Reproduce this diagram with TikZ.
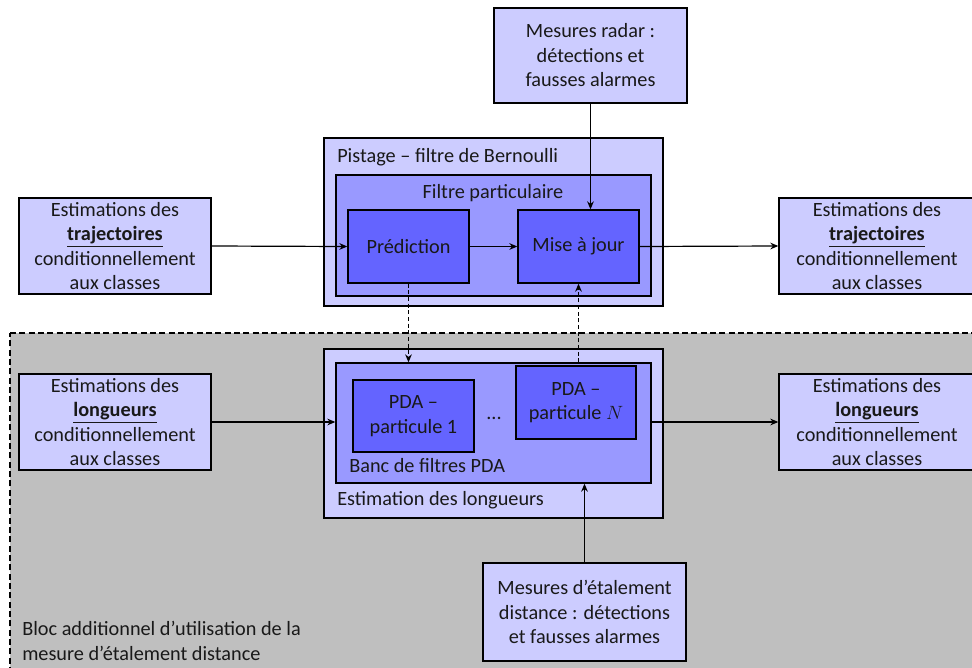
\documentclass[tikz,border=0pt]{standalone}
\usepackage{fontspec}
\setmainfont{Carlito}
\usetikzlibrary{arrows.meta}
\definecolor{lightv}{HTML}{CCCCFF}
\definecolor{midv}{HTML}{9999FF}
\definecolor{darkv}{HTML}{6464FF}
\definecolor{bggray}{HTML}{BFBFBF}
\tikzset{
  every node/.style={font=\fontsize{15.2}{18.4}\selectfont, text=black!90},
  box/.style={draw=black, line width=1pt, inner sep=0pt, align=center},
  arr/.style={-{Stealth[length=6pt,width=5pt]}, line width=0.9pt},
  darr/.style={arr, dash pattern=on 3pt off 2pt},
  lbl/.style={inner sep=0pt, anchor=west}
}
\begin{document}
\begin{tikzpicture}[x=0.75pt, y=-0.75pt]
\useasboundingbox (0,0) rectangle (972,668);
\fill[white] (0,0) rectangle (972,668);
% gray additional block
\draw[fill=bggray, line width=1pt, dash pattern=on 4.5pt off 2.5pt] (10,333) -- (985,333) -- (985,690) -- (10,690) -- cycle;
\node[lbl, align=left] (bloc) at (22,641) {Bloc additionnel d’utilisation de la\\mesure d’étalement distance};

% radar measurements
\node[box, fill=lightv, minimum width={193*0.75pt}, minimum height={95*0.75pt}] (radar) at (590.5,55.5) {Mesures radar :\\détections et\\fausses alarmes};

% tracking block
\node[box, fill=lightv, minimum width={339*0.75pt}, minimum height={168*0.75pt}] (pist) at (493.5,222) {};
\node[lbl] (pistl) at (337,157) {Pistage – filtre de Bernoulli};
\node[box, fill=midv, minimum width={315*0.75pt}, minimum height={121*0.75pt}] (filt) at (493.5,235.5) {};
\node[inner sep=0pt] (filtl) at (493,193) {Filtre particulaire};
\node[box, fill=darkv, minimum width={121*0.75pt}, minimum height={73*0.75pt}] (pred) at (408.5,246.5) {Prédiction};
\node[box, fill=darkv, minimum width={121*0.75pt}, minimum height={73*0.75pt}] (maj) at (578.5,246.5) {Mise à jour};

% side boxes top
\node[box, fill=lightv, minimum width={192*0.75pt}, minimum height={96*0.75pt}] (ltop) at (115,246) {Estimations des\\\textbf{\underline{trajectoires}}\\conditionnellement\\aux classes};
\node[box, fill=lightv, minimum width={196*0.75pt}, minimum height={96*0.75pt}] (rtop) at (877,246) {Estimations des\\\textbf{\underline{trajectoires}}\\conditionnellement\\aux classes};

% length estimation block
\node[box, fill=lightv, minimum width={339*0.75pt}, minimum height={169*0.75pt}] (estl) at (493.5,433.5) {};
\node[lbl] (estll) at (337,500) {Estimation des longueurs};
\node[box, fill=midv, minimum width={315*0.75pt}, minimum height={120*0.75pt}] (banc) at (493.5,423) {};
\node[lbl] (bancl) at (349,466) {Banc de filtres PDA};
\node[box, fill=darkv, minimum width={121*0.75pt}, minimum height={72*0.75pt}] (pda1) at (413.5,416) {PDA –\\particule 1};
\node[box, fill=darkv, minimum width={120*0.75pt}, minimum height={73*0.75pt}] (pdaN) at (576,402.5) {PDA –\\particule $N$};
\node[inner sep=0pt] (dots) at (494,418) {...};

% side boxes bottom
\node[box, fill=lightv, minimum width={192*0.75pt}, minimum height={96*0.75pt}] (lbot) at (115,422) {Estimations des\\\textbf{\underline{longueurs}}\\conditionnellement\\aux classes};
\node[box, fill=lightv, minimum width={196*0.75pt}, minimum height={96*0.75pt}] (rbot) at (877,422) {Estimations des\\\textbf{\underline{longueurs}}\\conditionnellement\\aux classes};

% range spread measurements
\node[box, fill=lightv, minimum width={203*0.75pt}, minimum height={98*0.75pt}] (etal) at (584.5,612) {Mesures d’étalement\\distance : détections\\et fausses alarmes};

% connectors
\draw[arr] (radar.south) -- (radar.south |- maj.north);
\draw[arr] (ltop.east) -- (pred.west);
\draw[arr] (pred.east) -- (maj.west);
\draw[arr] (maj.east) -- (rtop.west);
\draw[darr] (pred.south) -- (pred.south |- banc.north);
\draw[darr] (maj.south |- banc.north) -- (maj.south);
\draw[arr] (lbot.east) -- (lbot.east -| banc.west);
\draw[arr] (rbot.west -| banc.east) -- (rbot.west);
\draw[arr] (etal.north) -- (etal.north |- banc.south);
\end{tikzpicture}
\end{document}
